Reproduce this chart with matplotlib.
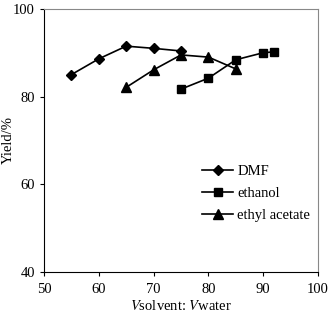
import matplotlib
matplotlib.use("Agg")
import matplotlib.pyplot as plt

plt.rcParams['font.family'] = ['Liberation Serif', 'DejaVu Serif']
plt.rcParams['mathtext.fontset'] = 'stix'

# data
dmf_x = [55, 60, 65, 70, 75]
dmf_y = [85.0, 88.6, 91.5, 91.0, 90.4]
eth_x = [75, 80, 85, 90, 92]
eth_y = [81.7, 84.2, 88.4, 90.0, 90.2]
ea_x = [65, 70, 75, 80, 85]
ea_y = [82.1, 86.1, 89.5, 89.0, 86.3]

fig = plt.figure(figsize=(3.3, 3.17), dpi=100)
ax = fig.add_axes([0.133, 0.142, 0.831, 0.83])

ax.plot(dmf_x, dmf_y, color="black", marker="D", markersize=5.5, lw=1.2, label="DMF")
ax.plot(eth_x, eth_y, color="black", marker="s", markersize=6, lw=1.2, label="ethanol")
ax.plot(ea_x, ea_y, color="black", marker="^", markersize=7, lw=1.2, label="ethyl acetate")

ax.set_xlim(50, 100)
ax.set_ylim(40, 100)
ax.set_xticks([50, 60, 70, 80, 90, 100])
ax.set_yticks([40, 60, 80, 100])
ax.tick_params(direction="out", length=3, width=0.8, labelsize=10.5, colors="black")
ax.tick_params(axis="x", pad=5)
for s in ax.spines.values():
    s.set_color("#888888")
    s.set_linewidth(0.8)
ax.spines["left"].set_color("black")
ax.spines["bottom"].set_color("black")

ax.set_ylabel("Yield/%", fontsize=10.5)
ax.yaxis.set_label_coords(-0.105, 0.5)
ax.set_xlabel("$V$solvent: $V$water", fontsize=10.5, labelpad=2)

ax.legend(loc="center left", bbox_to_anchor=(0.53, 0.30), frameon=False,
          fontsize=10.5, handlelength=2.1, handletextpad=0.3, labelspacing=0.6)

fig.savefig("out.png", dpi=100)
